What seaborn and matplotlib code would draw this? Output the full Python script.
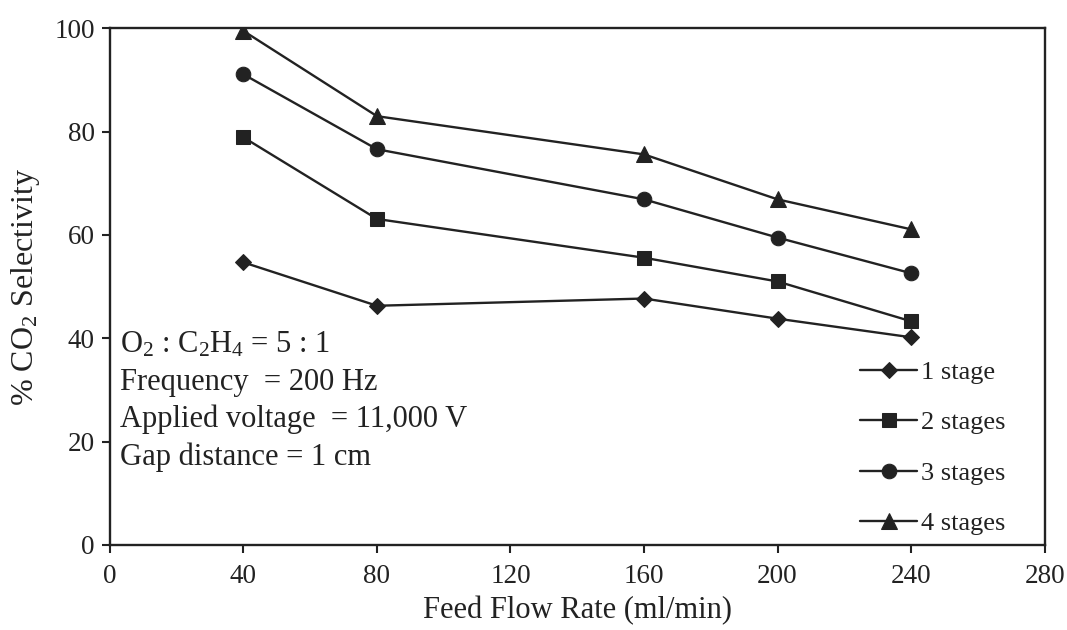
import numpy as np
import pandas as pd
import matplotlib
matplotlib.use("Agg")
import matplotlib.pyplot as plt
import seaborn as sns

# ---- data ----
flow_rate = [40, 80, 160, 200, 240]
stage1 = [54.7, 46.3, 47.7, 43.8, 40.2]
stage2 = [78.9, 63.1, 55.6, 51.0, 43.3]
stage3 = [91.1, 76.6, 66.9, 59.5, 52.6]
stage4 = [99.5, 83.0, 75.6, 66.9, 61.1]
series_labels = ["1 stage", "2 stages", "3 stages", "4 stages"]
x_ticks = [0, 40, 80, 120, 160, 200, 240, 280]
y_ticks = [0, 20, 40, 60, 80, 100]
notes = ["O$_2$ : C$_2$H$_4$ = 5 : 1",
         "Frequency  = 200 Hz",
         "Applied voltage  = 11,000 V",
         "Gap distance = 1 cm"]

rows = []
for lab, vals in zip(series_labels, [stage1, stage2, stage3, stage4]):
    for xv, yv in zip(flow_rate, vals):
        rows.append({"Feed": xv, "Sel": yv, "Series": lab})
df = pd.DataFrame(rows)

sns.set_theme(style="ticks")
plt.rcParams["font.family"] = ["Liberation Serif", "DejaVu Serif"]
plt.rcParams["mathtext.fontset"] = "custom"
plt.rcParams["mathtext.rm"] = "Liberation Serif"
plt.rcParams["mathtext.it"] = "Liberation Serif:italic"
plt.rcParams["mathtext.bf"] = "Liberation Serif:bold"

fig = plt.figure(figsize=(10.67, 6.30), dpi=100)
ax = fig.add_axes([0.103, 0.135, 0.876, 0.820])

ink = "#222222"
markers = {"1 stage": "D", "2 stages": "s", "3 stages": "o", "4 stages": "^"}
sizes = {"1 stage": 8, "2 stages": 10, "3 stages": 10.5, "4 stages": 11.5}

for lab in series_labels:
    sub = df[df["Series"] == lab]
    sns.lineplot(data=sub, x="Feed", y="Sel", ax=ax, color=ink, linewidth=1.7,
                 marker=markers[lab], markersize=sizes[lab],
                 markeredgecolor=ink, markerfacecolor=ink, label=lab)

ax.set_xlim(0, 280)
ax.set_ylim(0, 100)
ax.set_xticks(x_ticks)
ax.set_yticks(y_ticks)
ax.tick_params(axis="both", which="major", labelsize=19.5, length=6, width=1.5,
               direction="out", colors=ink, labelcolor=ink)
ax.tick_params(axis="x", pad=8)
ax.tick_params(axis="y", pad=5)
for sp in ax.spines.values():
    sp.set_visible(True)
    sp.set_linewidth(1.7)
    sp.set_color(ink)

ax.set_xlabel("Feed Flow Rate (ml/min)", fontsize=22, color=ink, labelpad=5)
ax.set_ylabel("% CO$_2$ Selectivity", fontsize=23, color=ink, labelpad=9)

ys = [0.372, 0.300, 0.228, 0.155]
for t, yy in zip(notes, ys):
    ax.text(0.011, yy, t, transform=ax.transAxes, fontsize=22, color=ink,
            va="baseline", ha="left")

leg = ax.legend(loc="lower left", bbox_to_anchor=(0.783, -0.017), frameon=False,
                fontsize=19, handlelength=2.15, handletextpad=0.15,
                labelspacing=1.02, borderpad=0.2)
for txt in leg.get_texts():
    txt.set_color(ink)

fig.savefig("out.png", dpi=100, facecolor="white")
